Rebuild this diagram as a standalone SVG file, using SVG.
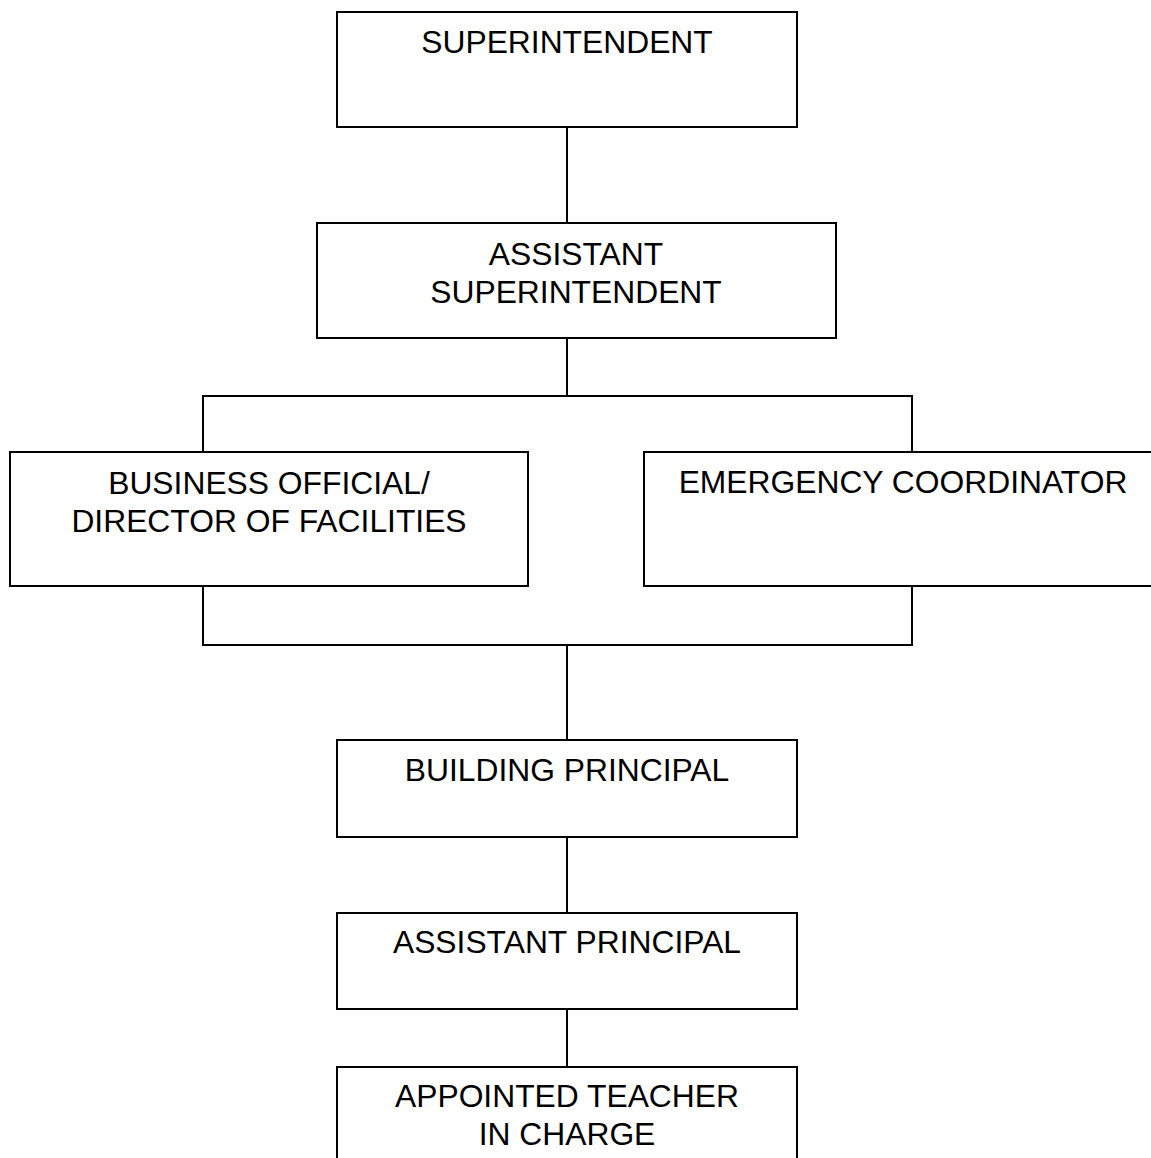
<svg xmlns="http://www.w3.org/2000/svg" width="1151" height="1158" viewBox="0 0 1151 1158">
<style>
.box{fill:#fff;stroke:#000;stroke-width:2}
.con{fill:none;stroke:#000;stroke-width:2}
.t{font-family:"Liberation Sans",Arial,sans-serif;font-size:31.8px;fill:#000;text-anchor:middle}
</style>
<rect width="1151" height="1158" fill="#fff"/>
<g id="connectors">
<line class="con" x1="567" y1="127" x2="567" y2="223"/>
<line class="con" x1="567" y1="338" x2="567" y2="396"/>
<polyline class="con" points="203,452 203,396 912,396 912,452"/>
<polyline class="con" points="203,586 203,645 912,645 912,586"/>
<line class="con" x1="567" y1="645" x2="567" y2="740"/>
<line class="con" x1="567" y1="837" x2="567" y2="913"/>
<line class="con" x1="567" y1="1009" x2="567" y2="1067"/>
</g>
<g id="superintendent">
<rect class="box" x="337" y="12" width="460" height="115"/>
<text class="t" x="567" y="53">SUPERINTENDENT</text>
</g>
<g id="assistant-superintendent">
<rect class="box" x="317" y="223" width="519" height="115"/>
<text class="t" x="576" y="265">ASSISTANT</text>
<text class="t" x="576" y="303">SUPERINTENDENT</text>
</g>
<g id="business-official">
<rect class="box" x="10" y="452" width="518" height="134"/>
<text class="t" x="269" y="494">BUSINESS OFFICIAL/</text>
<text class="t" x="269" y="532">DIRECTOR OF FACILITIES</text>
</g>
<g id="emergency-coordinator">
<rect class="box" x="644" y="452" width="518" height="134"/>
<text class="t" x="903" y="493">EMERGENCY COORDINATOR</text>
</g>
<g id="building-principal">
<rect class="box" x="337" y="740" width="460" height="97"/>
<text class="t" x="567" y="781">BUILDING PRINCIPAL</text>
</g>
<g id="assistant-principal">
<rect class="box" x="337" y="913" width="460" height="96"/>
<text class="t" x="567" y="953">ASSISTANT PRINCIPAL</text>
</g>
<g id="appointed-teacher">
<rect class="box" x="337" y="1067" width="460" height="110"/>
<text class="t" x="567" y="1107">APPOINTED TEACHER</text>
<text class="t" x="567" y="1145">IN CHARGE</text>
</g>
</svg>
